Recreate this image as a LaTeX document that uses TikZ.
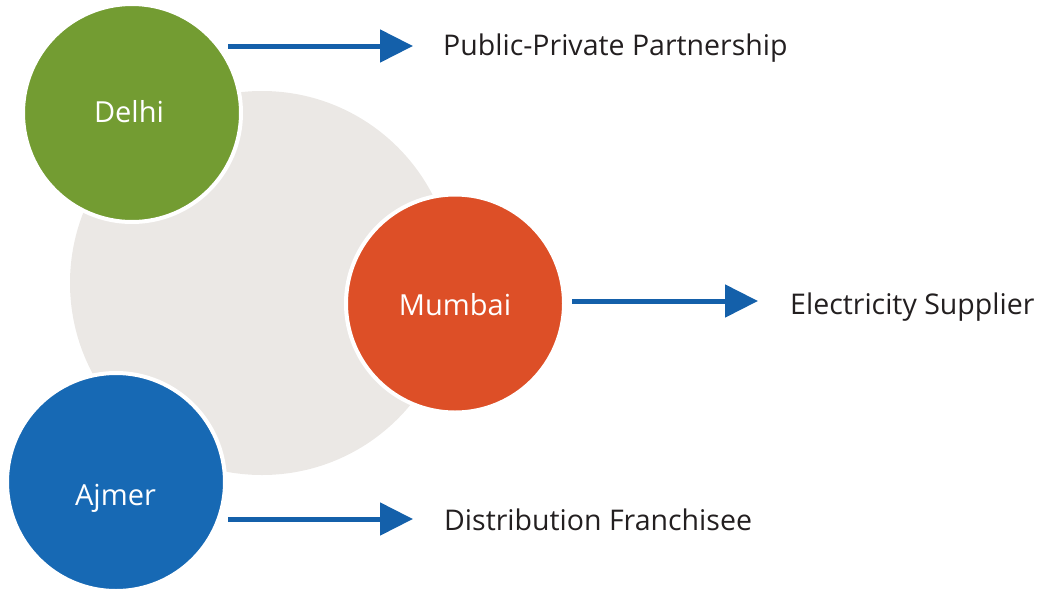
\documentclass[tikz,border=0pt]{standalone}
\usepackage{fontspec}
\setmainfont{Open Sans}
\usetikzlibrary{arrows.meta}
\definecolor{cgreen}{HTML}{739C32}
\definecolor{corange}{HTML}{DD4F27}
\definecolor{cblue}{HTML}{1769B4}
\definecolor{cgray}{HTML}{EBE8E5}
\definecolor{carrow}{HTML}{1460AA}
\definecolor{ctext}{HTML}{231F20}
\tikzset{
  city/.style={circle, inner sep=0pt, minimum size=218pt, draw=white, line width=4pt},
  citytext/.style={anchor=base, text=white, font=\fontsize{29pt}{34pt}\selectfont, inner sep=0pt},
  desc/.style={anchor=base west, text=ctext, font=\fontsize{28.5pt}{33pt}\selectfont, inner sep=0pt},
  arr/.style={draw=carrow, line width=5pt, -{Triangle[length=33pt,width=32pt]}}
}
\begin{document}
\begin{tikzpicture}[x=1pt,y=-1pt]
\useasboundingbox (0,0) rectangle (1043,592);
\node[circle, fill=cgray, inner sep=0pt, minimum size=384pt] (hub) at (262,283) {};
\node[city, fill=cgreen] (delhi) at (132,113) {};
\node[city, fill=corange] (mumbai) at (455,303.5) {};
\node[city, fill=cblue] (ajmer) at (116,482) {};
\node[citytext] (delhit) at (129,122) {Delhi};
\node[citytext] (mumbait) at (455,315) {Mumbai};
\node[citytext] (ajmert) at (115.5,505) {Ajmer};
\node[desc] (ppp) at (443,55) {Public-Private Partnership};
\node[desc] (es) at (790,314) {Electricity Supplier};
\node[desc] (df) at (444,530) {Distribution Franchisee};
\coordinate (a1s) at (228,46);
\coordinate (a1e) at (413,46);
\coordinate (a2s) at (572,301);
\coordinate (a2e) at (758,301);
\coordinate (a3s) at (228,519);
\coordinate (a3e) at (413,519);
\draw[arr] (a1s) -- (a1e);
\draw[arr] (a2s) -- (a2e);
\draw[arr] (a3s) -- (a3e);
\end{tikzpicture}
\end{document}
